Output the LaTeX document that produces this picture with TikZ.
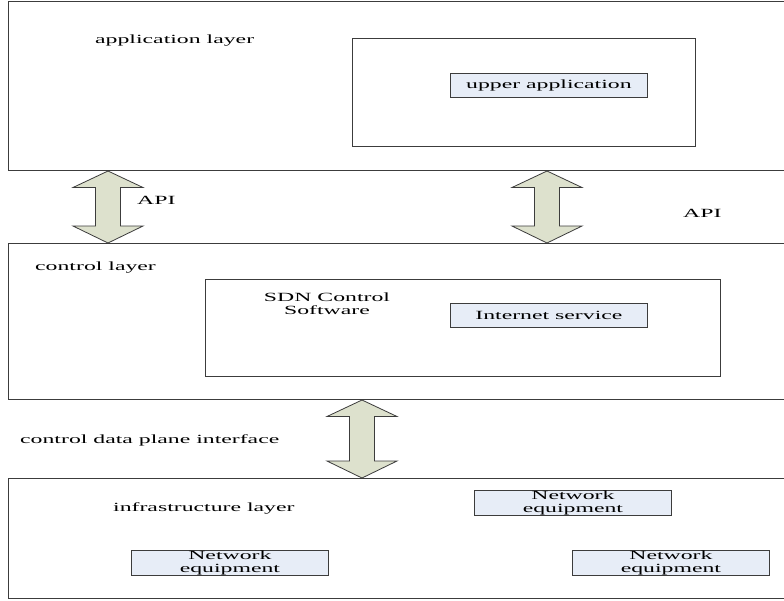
\documentclass[tikz,border=0pt]{standalone}
\usepackage{fontspec}
\setmainfont{Liberation Serif}[FakeStretch=1.9]
\usetikzlibrary{calc}

\definecolor{edge}{RGB}{60,60,60}
\definecolor{boxfill}{RGB}{231,237,247}
\definecolor{arrowfill}{RGB}{221,225,205}

\tikzset{
  txt/.style={inner sep=0pt, font=\fontsize{12.5}{13.5}\selectfont},
  layerbox/.style={draw=edge, line width=1pt, anchor=north west, inner sep=0pt},
  framebox/.style={draw=edge, line width=0.8pt, anchor=north west, inner sep=0pt},
  itembox/.style={txt, draw=edge, line width=0.8pt, fill=boxfill, anchor=north west,
    align=center, minimum width=197pt, minimum height=24pt},
  blockarrow/.style={draw=edge, line width=0.8pt, fill=arrowfill, line join=miter}
}

% double-headed block arrow from #1 (top tip) to #2 (bottom tip)
\newcommand\blockarrow[2]{%
  \draw[blockarrow] let \p1=(#1), \p2=(#2) in
    (\x1,\y1) -- (\x1+35pt,\y1-16.5pt) -- (\x1+12.5pt,\y1-16.5pt)
    -- (\x1+12.5pt,\y2+17pt) -- (\x1+35pt,\y2+17pt) -- (\x2,\y2)
    -- (\x1-35pt,\y2+17pt) -- (\x1-12.5pt,\y2+17pt)
    -- (\x1-12.5pt,\y1-16.5pt) -- (\x1-35pt,\y1-16.5pt) -- cycle;
}

\begin{document}
\begin{tikzpicture}[x=1pt, y=-1pt]
  \useasboundingbox[fill=white] (0,0) rectangle (784,600);

  % layers
  \node[layerbox, minimum width=790pt, minimum height=169pt] (app) at (8,1) {};
  \node[layerbox, minimum width=790pt, minimum height=156pt] (ctl) at (8,243) {};
  \node[layerbox, minimum width=790pt, minimum height=120pt] (infra) at (8,478) {};

  % application layer
  \node[txt, anchor=west] (applbl) at (95,41) {application layer};
  \node[framebox, minimum width=343pt, minimum height=108pt] (appframe) at (352,38) {};
  \node[itembox] (upper) at (450,73) {upper application};

  % control layer
  \node[txt, anchor=west] (ctllbl) at (35,268) {control layer};
  \node[framebox, minimum width=515pt, minimum height=97pt] (ctlframe) at (205,279) {};
  \node[txt, align=center] (sdn) at (327,303.5) {SDN Control\\Software};
  \node[itembox] (inet) at (450,303) {Internet service};

  % infrastructure layer
  \node[txt, anchor=west] (infralbl) at (113,508) {infrastructure layer};
  \node[itembox] (ne1) at (474,490) {Network\\equipment};
  \node[itembox] (ne2) at (131,550) {Network\\equipment};
  \node[itembox] (ne3) at (572,550) {Network\\equipment};

  % interfaces between layers
  \coordinate (ax1) at (108,0);
  \coordinate (ax2) at (547,0);
  \coordinate (ax3) at (362,0);
  \blockarrow{app.south -| ax1}{ctl.north -| ax1}
  \blockarrow{app.south -| ax2}{ctl.north -| ax2}
  \blockarrow{ctl.south -| ax3}{infra.north -| ax3}

  \node[txt, anchor=west] (api1) at (137,200) {API};
  \node[txt, anchor=west] (api2) at (683,213) {API};
  \node[txt, anchor=west] (cdpi) at (20,440) {control data plane interface};
\end{tikzpicture}
\end{document}
